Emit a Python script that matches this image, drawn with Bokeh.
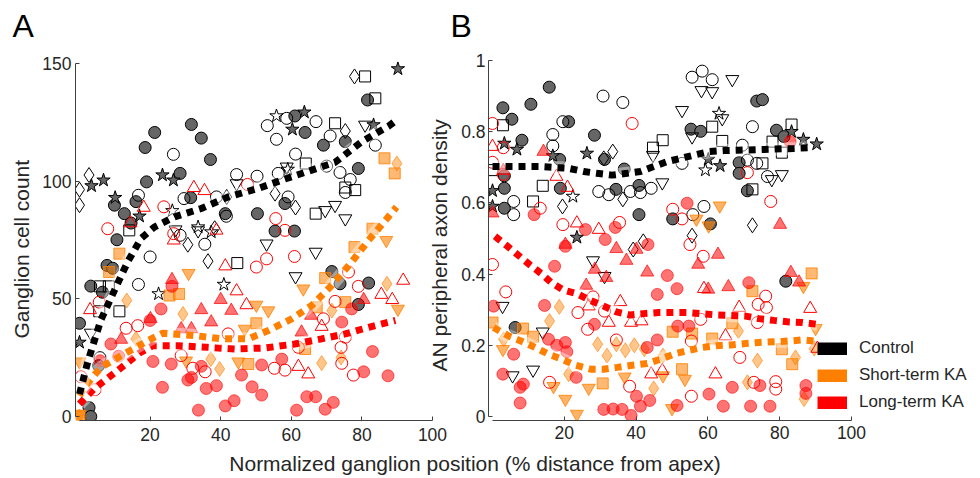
from bokeh.plotting import figure
from bokeh.models import Range1d, FixedTicker, Legend, LegendItem, Div, Title
from bokeh.layouts import row, column
from bokeh.embed import file_html
from bokeh.resources import INLINE

FONT = "Liberation Sans"
AXC = "#404040"
TXT = "#262626"
BLACK = "#000000"
ORANGE = "#ff8000"
RED = "#ff0000"
GRAY = "#666666"

# ---------------- Panel A data: ganglion cell count ----------------
A_XTICKS = [20, 40, 60, 80, 100]
A_YTICKS = [0, 50, 100, 150]

A_CTRL_FILLED = [(0,39.6),(3.2,55.4),(6.5,52.8),(7.8,64.2),(9.4,63),(9.9,89.8),(10.6,75.1),(12.7,86.2),
    (14.6,82.2),(16,91.3),(18.6,114.3),(19,99.7),(21.3,120.7),(28.5,103.3),(31.7,124.1),(34.5,118.3),
    (37.1,109.2),(50.4,86.2),(55.4,78.8),(58.2,90.5),(60.9,78.8),(61,127.7),(63.9,120.7),(69.1,115.3),
    (71.5,61.6),(73.8,56.4),(75.3,116.8),(79,105.4),(79,47.6),(81.6,134.5),(81.9,56.7),(31.5,93),
    (41.3,86.2),(5.4,21.6),(2.7,3.8),(3.2,0)]
A_CTRL_CIRCLE = [(26.6,111.4),(20,67.8),(16.7,56.1),(16.7,94),(29.6,92.6),(35.5,73.2),(38.8,93.3),
    (41.6,85.1),(44.5,102.8),(50.3,102.1),(53.2,123.6),(55.8,117.8),(56.3,103.3),(58.7,126.7),(59.1,93.3),
    (61.2,111.5),(67,125.3),(71,119.2),(70,106.4),(73.8,103.7),(75.3,95.2),(76.7,100.7),(83.8,115.3),
    (28.5,77),(5.8,25)]
A_CTRL_SQUARE = [(14.1,79.1),(5.8,55.3),(8.3,55.3),(5.6,44.7),(11.3,44.7),(44.7,65.2),(64.1,107.5),
    (66.9,86.2),(72.4,124.6),(75.3,97.3),(78.1,96.2),(80.9,144.5),(83.8,135.2)]
A_CTRL_DIAMOND = [(0,96.4),(0,89.8),(2.7,102.6),(30.7,73),(36.4,66),(41.7,93.3),(55.4,94.7),
    (61.2,88.8),(75.3,121.3),(77.9,144.5),(38.3,80)]
A_CTRL_TRIDOWN = [(3.2,35.5),(27.2,79.4),(33.6,79),(44.5,99),(53,73.4),(58.7,106.1),(61.2,59.5),
    (66.9,69.9),(69.6,87.6),(72.4,89.8),(75.3,84.1),(80.9,123.9)]
A_CTRL_STAR_FILLED = [(0,31.5),(3.4,98),(6.8,100.4),(10.1,93),(17,85.1),(23.5,102.6),(26.6,100.4),
    (60.3,122),(63.7,129.3),(90.2,147.7),(83.3,123.9)]
A_CTRL_STAR_OPEN = [(55.8,127.7),(40.9,56.1),(22.4,52.1),(26.3,87.4),(33.6,80.5),(37.3,78.4),(59,105)]

A_LONG_CIRCLE = [(8,79.8),(23.9,89.1),(26.7,77.7),(47.6,98.6),(55.6,84.1),(58.2,79.1),(53,67),
    (50.1,63.5),(60.9,68),(76.2,61.4),(72.4,48.9),(79,55.3),(13.2,37.5),(16.5,38.6),(5.6,48.6),
    (0.4,16.9),(4.4,11.4),(28.8,25.9),(32.1,20.5),(35.6,19),(42.1,35.1),(55.2,20.5),(58.2,19.7),
    (62,29.4),(69.1,41.5),(74.1,29.4),(74.3,22.6),(77.6,17.6),(75.3,33.7)]
A_LONG_FILLED = [(8.9,30.8),(11.1,25.6),(5.8,23.7),(20,40.8),(23.1,45.7),(26.2,55.3),(20.8,23.4),
    (23.5,12.4),(26,22.3),(30.7,15.5),(31.7,16.6),(33.7,2.7),(35.9,11.9),(38.8,13.1),(41.3,4.5),
    (43.8,6.7),(45.9,17.6),(48.9,12.6),(51.6,9.1),(51.6,21.9),(57.3,24.4),(61.5,2.7),(64.4,8.4),
    (66.9,8.4),(69.6,3.1),(71.9,6),(74.3,40.1),(77.1,45.7),(80.5,19),(83,27.6),(87.4,17.3),(34.5,21.3)]
A_LONG_TRI_OPEN = [(3,45.3),(14.4,82.2),(18.2,88.8),(32.4,97.2),(35.4,95.9),(26.7,74.9),(41.3,63.9),
    (44.5,53.3),(47.3,47.4),(38.8,79.1),(62,21.2),(64.8,18),(85.5,51.8),(88.6,49.6),(91.7,57.8),(68.6,38.2)]
A_LONG_TRI_FILLED = [(11.8,32.7),(26.2,58.1),(20.1,41.5),(34.5,45.3),(37.3,40.1),(40,49.6),(43,45),
    (28.8,37.2),(31.7,37.2),(62.9,35.8),(65.6,42.9),(80.5,49.6)]

A_SHORT_SQUARE = [(11.3,69.2),(8.4,61.4),(25.5,51.4),(28.2,52.1),(50.1,39.6),(63.9,28.7),(67.2,46.4),
    (69.6,58.8),(75.3,48.6),(77.9,72),(83,79.8),(86.4,109.7),(89.3,103.3),(0,0.3),(47.8,22.3)]
A_SHORT_TRIDOWN = [(0,23.3),(30.9,60.9),(30.2,23.7),(50.1,47.4),(53.5,45),(63.4,54.3),(86.9,74.9),
    (90.2,45.7),(45,23.3),(46.8,37.2),(0,1)]
A_SHORT_DIAMOND = [(13.4,49.3),(16,33),(29.3,43.6),(37.2,24.4),(39.7,20.2),(68.6,22.7),(87.1,56.4),
    (89.9,107.5),(74.1,25.1),(71.5,45),(0,0)]

A_FIT_CTRL_X = [0,2.3,6,9.9,13.6,17.4,21.2,26.9,34.5,42.1,50.6,58.2,65.8,72.4,80,87.6,90.2]
A_FIT_CTRL_Y = [9.5,23,40.8,53.6,65.6,75.6,80.5,84.8,88.4,93.3,96.9,100.9,104.7,108,116.8,123.4,126.4]
A_FIT_SHORT_X = [0,1.3,6.1,12.7,19.3,23.6,32.6,40.2,47.8,53.5,60.1,65.8,71,76.7,81.9,87.1,89.8]
A_FIT_SHORT_Y = [8.8,12.4,20.9,26.6,32.2,35.4,34.4,33,33,36.5,41.5,47.2,55,64.9,74.9,84.1,89]
A_FIT_LONG_X = [0,4.2,10.8,17,20.8,27.9,36.4,44,52.5,61,68.6,75.3,81.9,89.5]
A_FIT_LONG_Y = [5.3,11.9,19.5,27,30.1,30.1,29.4,28.7,29.1,30.8,33,35.1,37.9,40.8]

# ---------------- Panel B data: AN peripheral axon density ----------------
B_XTICKS = [20, 40, 60, 80, 100]
B_YTICKS = [0, 0.2, 0.4, 0.6, 0.8, 1]
B_YLABELS = ["0", "0.2", "0.4", "0.6", "0.8", "1"]

B_CTRL_FILLED = [(2.9,0.867),(5.4,0.835),(10.7,0.877),(15.8,0.925),(21.2,0.828),(8.2,0.776),(28.4,0.79),
    (31.2,0.722),(18.7,0.722),(18.9,0.641),(3.3,0.641),(3.3,0.585),(3.3,0.676),(34.4,0.638),(36.7,0.695),
    (40.8,0.649),(40.8,0.567),(50.2,0.555),(55.3,0.807),(58,0.801),(60.7,0.541),(68.7,0.713),(68.7,0.683),
    (71,0.634),(73.6,0.886),(75.2,0.89),(79.1,0.804),(81.2,0.786),(81.7,0.38),(6.3,0.25)]
B_CTRL_CIRCLE = [(19.6,0.828),(16.8,0.792),(16.8,0.76),(30.8,0.9),(36.3,0.882),(5.9,0.604),(5.9,0.567),
    (29.6,0.632),(32.4,0.623),(38.4,0.632),(41.2,0.629),(44.2,0.641),(55.6,0.953),(58.4,0.97),(61.2,0.946),
    (72.4,0.814),(69.6,0.762),(71,0.72),(73.6,0.711),(76.6,0.674),(58.9,0.59),(55.8,0.567),(52.8,0.711)]
B_CTRL_SQUARE = [(2.9,0.818),(0,0.692),(14,0.648),(11.3,0.604),(44.7,0.755),(47.4,0.776),(61.2,0.814),
    (64,0.774),(78,0.772),(80.6,0.741),(83.3,0.82),(75.2,0.711),(72.4,0.638)]
B_CTRL_DIAMOND = [(33.5,0.744),(31,0.725),(36.3,0.61),(19.5,0.59),(39.2,0.469),(42,0.492),(55.6,0.508),
    (72.4,0.537)]
B_CTRL_TRIDOWN = [(2.8,0.31),(5.6,0.115),(11.3,0.131),(14,0.238),(28,0.438),(31.2,0.394),(44.7,0.734),
    (47.3,0.657),(52.8,0.86),(55.6,0.786),(58.2,0.916),(61.2,0.913),(64,0.837),(66.8,0.947),(77.8,0.666),
    (80.6,0.68)]
B_CTRL_STAR_FILLED = [(0,0.634),(0,0.59),(3.3,0.767),(6.8,0.75),(16.8,0.732),(26.3,0.739),(23.5,0.503),
    (60.1,0.722),(63.4,0.704),(83.3,0.8),(86.6,0.778),(90.3,0.765)]
B_CTRL_STAR_OPEN = [(22.4,0.618),(59.3,0.692),(63.1,0.851)]

B_LONG_CIRCLE = [(0,0.823),(0,0.714),(3,0.755),(3,0.68),(38.9,0.823),(13.3,0.585),(19.6,0.539),(35.4,0.545),
    (50.2,0.582),(52.8,0.555),(55,0.483),(58.7,0.45),(77.5,0.604),(71,0.685),(0,0.427),(3.7,0.35),
    (23.8,0.292),(26.5,0.245),(28,0.336),(31.2,0.296),(34.5,0.215),(55.4,0.212),(58,0.273),(74,0.315),
    (76.1,0.338),(76.3,0.306),(73.8,0.264),(68.9,0.166),(72.8,0.096),(78.9,0.098),(78.9,0.077),
    (38.2,0.085),(15.9,0.096),(55.4,0.057)]
B_LONG_FILLED = [(0.3,0.31),(11.6,0.567),(14.5,0.312),(17.3,0.422),(20.3,0.478),(25.9,0.525),(31.4,0.497),
    (34.2,0.531),(43.3,0.483),(48.7,0.396),(51.4,0.359),(45.9,0.343),(54.2,0.599),(28.4,0.259),(15.6,0.217),
    (17.9,0.2),(20.3,0.208),(20.7,0.182),(5.9,0.175),(2.9,0.119),(7.7,0.082),(8.6,0.091),(7.7,0.038),
    (23.3,0.11),(31,0.02),(33.6,0.021),(36.1,0.02),(38.6,0.003),(41.2,0.029),(43.8,0.045),(40.1,0.057),
    (45.9,0.215),(43.1,0.194),(51.4,0.031),(51.6,0.254),(60.3,0.063),(64.3,0.029),(66.8,0.082),(71.9,0.029),
    (77.3,0.029),(74.5,0.087),(71.4,0.376),(87.3,0.087),(87.3,0.065),(54.7,0.254),(82.9,0.772)]
B_LONG_TRI_OPEN = [(0,0.758),(17.8,0.674),(20.9,0.643),(23.5,0.543),(29.6,0.525),(26.8,0.31),(32.4,0.264),
    (35.6,0.322),(38.6,0.264),(41.5,0.268),(44.2,0.119),(47.3,0.129),(58.9,0.359),(62.1,0.119),(64.9,0.226),
    (68.7,0.306),(88.5,0.303),(90.5,0.191)]
B_LONG_TRI_FILLED = [(0,0.571),(14.2,0.744),(20.3,0.483),(26.1,0.368),(28.5,0.413),(31.7,0.39),(34.5,0.471),
    (37.3,0.438),(40.1,0.469),(43.1,0.405),(57.3,0.427),(60.1,0.357),(62.8,0.455),(65.7,0.364),(80.1,0.539),
    (83.1,0.404),(85.4,0.377),(3,0.69)]

B_SHORT_SQUARE = [(0,0.264),(8.5,0.247),(11.3,0.224),(30.7,0.093),(52.8,0.133),(55.6,0.233),(50.2,0.238),
    (61.2,0.219),(66.8,0.262),(72.4,0.352),(80.6,0.189),(83.5,0.147),(88.9,0.402)]
B_SHORT_TRIDOWN = [(2.9,0.189),(17,0.085),(20.3,0.049),(23.5,0.007),(26.8,0.08),(36.8,0.112),(47.5,0.115),
    (50,0.023),(53.6,0.105),(56.8,0.555),(60.2,0.536),(63.3,0.592),(86.6,0.366),(90,0.248)]
B_SHORT_DIAMOND = [(15.9,0.268),(18.6,0.308),(29.3,0.203),(31.9,0.171),(34.5,0.203),(37,0.186),(39.5,0.2),
    (42.3,0.189),(44.9,0.079),(47.5,0.171),(21.2,0.119),(68.5,0.24),(71,0.096),(73.8,0.157),(84.4,0.166),
    (86.8,0.049),(89.6,0.191),(3.1,0.217)]

B_FIT_CTRL_X = [0,4.9,13.3,21.2,25.4,29.1,33.3,37.5,41.2,44.9,48.7,52.4,56.1,60.3,64.5,68.2,75.6,84,88.2]
B_FIT_CTRL_Y = [0.702,0.702,0.702,0.697,0.688,0.683,0.678,0.683,0.688,0.702,0.716,0.725,0.734,0.744,
    0.747,0.748,0.75,0.753,0.755]
B_FIT_LONG_X = [0.7,4.2,7.3,10.3,13.5,16.4,19.8,23.5,27.3,31,34.5,38.4,42.1,46.3,50.3,54.2,57.9,62.6,
    66.3,70.5,74.2,78.4,82.1,86.3,90.5]
B_FIT_LONG_Y = [0.506,0.478,0.452,0.427,0.402,0.376,0.355,0.345,0.326,0.31,0.294,0.285,0.289,0.292,0.292,
    0.292,0.289,0.285,0.284,0.282,0.275,0.27,0.266,0.264,0.259]
B_FIT_SHORT_X = [0.3,4.5,8.2,11.9,15.6,19.3,23.1,27.3,31,34.7,38.9,43.1,46.8,51,54.7,58.4,62.6,66.3,
    70.5,74.2,78.4,82.6,86.3,89.6]
B_FIT_SHORT_Y = [0.25,0.226,0.211,0.194,0.175,0.161,0.144,0.133,0.133,0.138,0.144,0.149,0.161,0.177,
    0.186,0.194,0.199,0.201,0.205,0.208,0.21,0.212,0.215,0.212]

LEGEND_LABELS = ["Control", "Short-term KA", "Long-term KA"]
LEGEND_COLORS = [BLACK, ORANGE, RED]

# ---------------- geometry (page pixels, page origin at 0,0) ----------------
H = 452
FRAME_TOP = 52

# panel A
A_LEFT, A_W = 0, 460
A_FRAME_L, A_FRAME_R, A_FRAME_B = 75, 460, 420
A_X0, A_X100 = 79.0, 432.0
A_Y0, A_Y150 = 416.0, 63.0
sxa = (A_X100 - A_X0) / 100.0
sya = (A_Y0 - A_Y150) / 150.0
def ax(px): return (px - A_X0) / sxa
def ay(py): return (A_Y0 - py) / sya

# panel B (overlaps A's right border; its canvas is transparent)
B_LEFT, B_W = 414, 558
B_FRAME_L, B_FRAME_R, B_FRAME_B = 488, 972, 422
B_X0, B_X100 = 492.0, 851.0
B_Y0, B_Y1 = 418.0, 60.0
sxb = (B_X100 - B_X0) / 100.0
syb = (B_Y0 - B_Y1)
def bx(px): return (px - B_X0) / sxb
def by(py): return (B_Y0 - py) / syb


def make_fig(left, w, fl, fr, fb, xmap, ymap):
    p = figure(width=w, height=H, output_backend="svg", toolbar_location=None,
               x_range=Range1d(xmap(fl), xmap(fr)), y_range=Range1d(ymap(fb), ymap(FRAME_TOP)),
               min_border_left=fl - left, min_border_right=left + w - fr,
               min_border_top=FRAME_TOP, min_border_bottom=H - fb)
    p.outline_line_color = None
    p.xgrid.visible = False
    p.ygrid.visible = False
    p.background_fill_color = None
    p.border_fill_color = None
    return p


def style_axes(p, xticks, yticks, xb, yb, xstand, ystand, yoverrides=None):
    p.xaxis.bounds = xb
    p.yaxis.bounds = yb
    p.xaxis.ticker = FixedTicker(ticks=xticks)
    p.yaxis.ticker = FixedTicker(ticks=yticks)
    for a in (p.xaxis, p.yaxis):
        a.major_tick_in = 4
        a.major_tick_out = 0
        a.minor_tick_line_color = None
        a.axis_line_color = AXC
        a.major_tick_line_color = AXC
        a.major_label_text_font = FONT
        a.major_label_text_font_size = "17.5px"
        a.major_label_text_color = TXT
    p.xaxis.major_label_standoff = xstand
    p.yaxis.major_label_standoff = ystand
    if yoverrides:
        p.yaxis.major_label_overrides = yoverrides


def y_title(p, text, text_bottom_px, frame_bottom_px, standoff):
    # axis title on the left side, its start placed at a chosen height
    t = Title(text=text, text_font=FONT, text_font_size="21px", text_font_style="normal",
              text_color=TXT, align="left", vertical_align="bottom",
              offset=frame_bottom_px - text_bottom_px, standoff=standoff)
    p.add_layout(t, "left")


def pts(p, data, marker, size, fill=None, fill_alpha=1.0, line=BLACK, line_alpha=1.0, lw=1.0):
    xs = [d[0] for d in data]
    ys = [d[1] for d in data]
    p.scatter(xs, ys, marker=marker, size=size, fill_color=fill, fill_alpha=fill_alpha,
              line_color=line, line_alpha=line_alpha, line_width=lw)


def fit(p, xs, ys, color):
    p.line(xs, ys, line_color="white", line_width=13, line_alpha=0.4)
    p.line(xs, ys, line_color=color, line_width=7, line_dash="7 6", line_cap="butt")


def draw_panel(p, C_FILLED, C_CIRCLE, C_SQUARE, C_DIAMOND, C_TRIDOWN, C_STARF, C_STARO,
               S_SQUARE, S_TRIDOWN, S_DIAMOND, L_CIRCLE, L_FILLED, L_TRIO, L_TRIF):
    pts(p, C_FILLED, "circle", 12, fill=GRAY)
    pts(p, C_CIRCLE, "circle", 12)
    pts(p, C_SQUARE, "square", 11)
    pts(p, C_DIAMOND, "diamond", 15)
    pts(p, C_TRIDOWN, "inverted_triangle", 13)
    pts(p, C_STARF, "star", 14, fill=GRAY)
    pts(p, C_STARO, "star", 14)
    pts(p, S_SQUARE, "square", 11, fill=ORANGE, fill_alpha=0.55, line=ORANGE, line_alpha=0.8)
    pts(p, S_TRIDOWN, "inverted_triangle", 13, fill=ORANGE, fill_alpha=0.6, line=ORANGE, line_alpha=0.8)
    pts(p, S_DIAMOND, "diamond", 15, fill=ORANGE, fill_alpha=0.45, line=ORANGE, line_alpha=0.6)
    pts(p, L_CIRCLE, "circle", 12, line=RED)
    pts(p, L_FILLED, "circle", 12, fill=RED, fill_alpha=0.55, line=RED, line_alpha=0.6)
    pts(p, L_TRIO, "triangle", 13, line=RED)
    pts(p, L_TRIF, "triangle", 13, fill=RED, fill_alpha=0.55, line=RED, line_alpha=0.7)


def panel_title(p, text, ink_left, frame_left):
    t = Title(text=text, text_font=FONT, text_font_size="32px", text_font_style="normal",
              text_color="black", align="left", vertical_align="top",
              offset=ink_left - frame_left, standoff=14)
    p.add_layout(t, "above")


# ---------------- Panel A ----------------
pA = make_fig(A_LEFT, A_W, A_FRAME_L, A_FRAME_R, A_FRAME_B, ax, ay)
style_axes(pA, A_XTICKS, A_YTICKS, (0, 100), (0, 150), 7, 4)
y_title(pA, "Ganglion cell count", 338, A_FRAME_B, 14)
draw_panel(pA, A_CTRL_FILLED, A_CTRL_CIRCLE, A_CTRL_SQUARE, A_CTRL_DIAMOND, A_CTRL_TRIDOWN,
           A_CTRL_STAR_FILLED, A_CTRL_STAR_OPEN, A_SHORT_SQUARE, A_SHORT_TRIDOWN, A_SHORT_DIAMOND,
           A_LONG_CIRCLE, A_LONG_FILLED, A_LONG_TRI_OPEN, A_LONG_TRI_FILLED)
fit(pA, A_FIT_LONG_X, A_FIT_LONG_Y, RED)
fit(pA, A_FIT_SHORT_X, A_FIT_SHORT_Y, ORANGE)
fit(pA, A_FIT_CTRL_X, A_FIT_CTRL_Y, BLACK)
panel_title(pA, "A", 12, A_FRAME_L)

# ---------------- Panel B ----------------
pB = make_fig(B_LEFT, B_W, B_FRAME_L, B_FRAME_R, B_FRAME_B, bx, by)
style_axes(pB, B_XTICKS, B_YTICKS, (0, 100), (0, 1), 5, 3,
           yoverrides={t: s for t, s in zip(B_YTICKS, B_YLABELS)})
y_title(pB, "AN peripheral axon density", 373, B_FRAME_B, 16)
draw_panel(pB, B_CTRL_FILLED, B_CTRL_CIRCLE, B_CTRL_SQUARE, B_CTRL_DIAMOND, B_CTRL_TRIDOWN,
           B_CTRL_STAR_FILLED, B_CTRL_STAR_OPEN, B_SHORT_SQUARE, B_SHORT_TRIDOWN, B_SHORT_DIAMOND,
           B_LONG_CIRCLE, B_LONG_FILLED, B_LONG_TRI_OPEN, B_LONG_TRI_FILLED)
fit(pB, B_FIT_SHORT_X, B_FIT_SHORT_Y, ORANGE)
fit(pB, B_FIT_LONG_X, B_FIT_LONG_Y, RED)
fit(pB, B_FIT_CTRL_X, B_FIT_CTRL_Y, BLACK)
panel_title(pB, "B", 450, B_FRAME_L)

items = []
for lab, col in zip(LEGEND_LABELS, LEGEND_COLORS):
    r = pB.line([float("nan")], [float("nan")], line_color=col, line_width=13, line_cap="butt")
    items.append(LegendItem(label=lab, renderers=[r]))
leg = Legend(items=items, location=(817 - B_FRAME_L, 8), glyph_width=30, glyph_height=13,
             label_standoff=12, spacing=7, padding=0, margin=0, label_height=20,
             label_text_font=FONT, label_text_font_size="17px", label_text_color=TXT,
             border_line_color=None, background_fill_alpha=0)
pB.add_layout(leg)

pA.margin = (0, 0, 0, 0)
pB.margin = (0, 0, 0, B_LEFT - (A_LEFT + A_W))

xlabel = Div(text="Normalized ganglion position (% distance from apex)", width=950, height=24,
             margin=(0, 0, 0, 0),
             styles={"font-family": FONT, "font-size": "21px", "color": TXT,
                     "text-align": "center", "line-height": "24px", "width": "950px"})

layout = column(row(pA, pB), xlabel)
open("out.html", "w").write(file_html(layout, INLINE))
